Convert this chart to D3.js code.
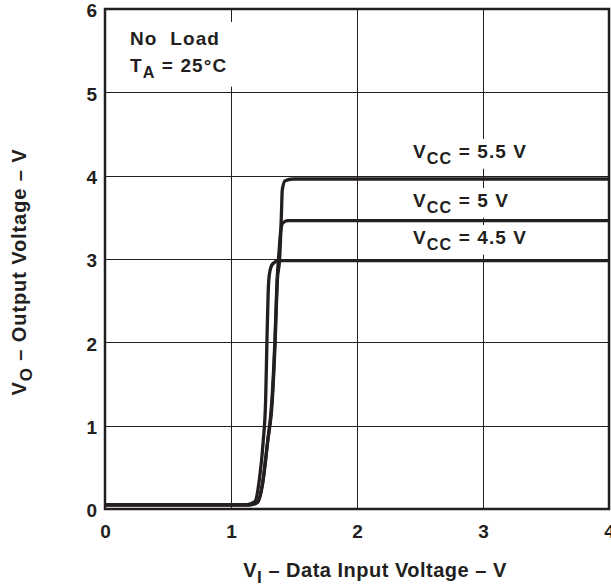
<!DOCTYPE html>
<html><head><meta charset="utf-8">
<script src="https://cdn.jsdelivr.net/npm/d3@7"></script>
<style>
html,body{margin:0;padding:0;background:#fff;}
svg text{font-family:"Liberation Sans",Arial,Helvetica,sans-serif;font-weight:bold;fill:#231f20;}
</style></head>
<body>
<svg id="chart" width="611" height="586"></svg>
<script>
// ---- data ----
const xTicks = [0, 1, 2, 3, 4];
const yTicks = [0, 1, 2, 3, 4, 5, 6];
const seriesNames = ["VCC = 5.5 V", "VCC = 5 V", "VCC = 4.5 V"];
const vcc55 = [[0,0.05],[1.15,0.05],[1.21,0.08],[1.25,0.3],[1.29,0.8],[1.328,1.31],[1.35,2.0],[1.368,2.75],[1.386,3.0],[1.40,3.53],[1.407,3.83],[1.43,3.94],[1.49,3.96],[4,3.96]];
const vcc50 = [[0,0.05],[1.15,0.05],[1.21,0.08],[1.25,0.3],[1.29,0.8],[1.325,1.31],[1.348,2.0],[1.366,2.75],[1.382,3.1],[1.392,3.3],[1.41,3.43],[1.45,3.46],[4,3.46]];
const vcc45 = [[0,0.05],[1.12,0.05],[1.19,0.09],[1.225,0.35],[1.255,0.8],[1.275,1.31],[1.285,2.0],[1.295,2.6],[1.305,2.82],[1.33,2.94],[1.38,2.98],[4,2.98]];
const seriesValues = [vcc55, vcc50, vcc45];

// ---- layout ----
const svg = d3.select("#chart");
const x = d3.scaleLinear().domain([0, 4]).range([105, 609]);
const y = d3.scaleLinear().domain([0, 6]).range([509, 9]);
const ink = "#231f20";
const FS = 19, LS = 1.1;

// grid
svg.append("g").selectAll("line").data(xTicks.slice(1, -1)).join("line")
  .attr("x1", d => Math.round(x(d)) + 0.5).attr("x2", d => Math.round(x(d)) + 0.5)
  .attr("y1", y(6)).attr("y2", y(0)).attr("stroke", ink).attr("stroke-width", 1);
svg.append("g").selectAll("line").data(yTicks.slice(1, -1)).join("line")
  .attr("y1", d => Math.round(y(d)) + 0.5).attr("y2", d => Math.round(y(d)) + 0.5)
  .attr("x1", x(0)).attr("x2", x(4)).attr("stroke", ink).attr("stroke-width", 1);

// labels with white backgrounds
function subText(g, parts, px, py, size) {
  const t = g.append("text").attr("x", px).attr("y", py).attr("font-size", size).attr("letter-spacing", LS);
  parts.forEach(p => {
    const ts = t.append("tspan").text(p.t);
    if (p.sub) ts.attr("font-size", size * 0.85).attr("dy", size * 0.3);
    if (p.back) ts.attr("dy", -size * 0.3);
  });
  return t;
}
const labels = svg.append("g");
const noLoad = labels.append("text").attr("x", 130).attr("y", 45).attr("font-size", FS)
  .attr("letter-spacing", LS).style("white-space", "pre").text("No  Load");
const ta = subText(labels, [{t:"T"},{t:"A",sub:true},{t:" = 25°C",back:true}], 130, 72, FS);
const l55 = subText(labels, [{t:"V"},{t:"CC",sub:true},{t:" = 5.5 V",back:true}], 413, 158, FS);
const l50 = subText(labels, [{t:"V"},{t:"CC",sub:true},{t:" = 5 V",back:true}], 413, 207, FS);
const l45 = subText(labels, [{t:"V"},{t:"CC",sub:true},{t:" = 4.5 V",back:true}], 413, 244, FS);
function whiteBehind(nodes, pad) {
  const bbs = nodes.map(n => n.node().getBBox());
  const x0 = d3.min(bbs, b => b.x) - pad, y0 = d3.min(bbs, b => b.y) - pad;
  const x1 = d3.max(bbs, b => b.x + b.width) + pad, y1 = d3.max(bbs, b => b.y + b.height) + pad;
  labels.insert("rect", ":first-child").attr("x", x0).attr("y", y0).attr("width", x1 - x0).attr("height", y1 - y0).attr("fill", "#fff");
}
whiteBehind([noLoad, ta], 6);
whiteBehind([l55], 2);
whiteBehind([l50], 2);
whiteBehind([l45], 2);

// curves
const line = d3.line().x(d => x(d[0])).y(d => y(d[1])).curve(d3.curveMonotoneX);
svg.append("g").selectAll("path").data(seriesValues).join("path")
  .attr("d", line).attr("fill", "none").attr("stroke", ink).attr("stroke-width", 3.3)
  .attr("stroke-linejoin", "round");

// frame
svg.append("rect").attr("x", x(0)).attr("y", y(6)).attr("width", x(4) - x(0)).attr("height", y(0) - y(6))
  .attr("fill", "none").attr("stroke", ink).attr("stroke-width", 2.5);

// axes tick labels
const xAxis = svg.append("g").attr("transform", `translate(0,${y(0)})`)
  .call(d3.axisBottom(x).tickValues(xTicks).tickSize(0).tickPadding(16).tickFormat(d3.format("d")));
xAxis.select(".domain").remove();
xAxis.selectAll("text").attr("font-size", FS).attr("fill", ink).attr("font-family", null);
const yAxis = svg.append("g").attr("transform", `translate(${x(0)},0)`)
  .call(d3.axisLeft(y).tickValues(yTicks).tickSize(0).tickPadding(8).tickFormat(d3.format("d")));
yAxis.select(".domain").remove();
yAxis.selectAll("text").attr("font-size", FS).attr("fill", ink).attr("font-family", null).attr("dy", "0.42em");

// axis titles
const xt = svg.append("text").attr("x", 375).attr("y", 577).attr("text-anchor", "middle").attr("font-size", 20).attr("letter-spacing", 0.5);
xt.append("tspan").text("V");
xt.append("tspan").text("I").attr("font-size", 17).attr("dy", 6);
xt.append("tspan").text(" – Data Input Voltage – V").attr("dy", -6);
const yt = svg.append("text").attr("transform", "translate(26,272) rotate(-90)").attr("text-anchor", "middle").attr("font-size", 20).attr("letter-spacing", 0.9);
yt.append("tspan").text("V");
yt.append("tspan").text("O").attr("font-size", 17).attr("dy", 6);
yt.append("tspan").text(" – Output Voltage – V").attr("dy", -6);
</script>
</body></html>
